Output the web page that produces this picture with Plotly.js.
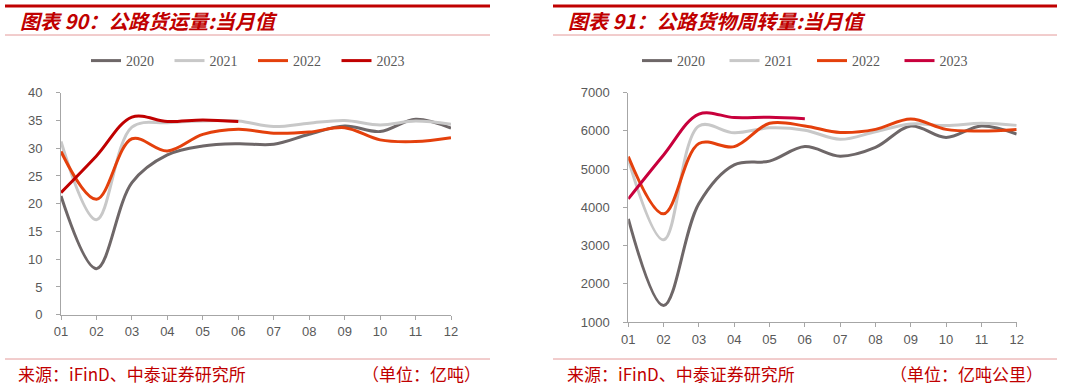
<!DOCTYPE html>
<html>
<head>
<meta charset="utf-8">
<script src="https://cdn.plot.ly/plotly-3.0.1.min.js"></script>
<style>html,body{margin:0;padding:0;background:#fff;}#chart{width:1078px;height:386px;}</style>
</head>
<body>
<div id="chart"></div>
<script>
// ---- data ----
const months = ['01','02','03','04','05','06','07','08','09','10','11','12'];
const seriesNames = ['2020','2021','2022','2023'];

// 公路货运量 (亿吨)
const volume2020 = [21.4, 8.3, 23.8, 28.8, 30.4, 30.8, 30.7, 32.5, 34.0, 33.0, 35.2, 33.6];
const volume2021 = [31.2, 17.1, 33.8, 34.6, 34.9, 34.9, 33.9, 34.5, 35.0, 34.2, 34.9, 34.3];
const volume2022 = [29.4, 20.8, 31.7, 29.5, 32.5, 33.4, 32.7, 32.9, 33.7, 31.5, 31.2, 31.9];
const volume2023 = [22.0, 28.6, 35.6, 34.8, 35.1, 34.8];

// 公路货物周转量 (亿吨公里)
const turnover2020 = [3700, 1430, 4100, 5110, 5210, 5590, 5340, 5570, 6130, 5830, 6130, 5920];
const turnover2021 = [5250, 3150, 6130, 5950, 6080, 6020, 5780, 5980, 6180, 6140, 6200, 6145];
const turnover2022 = [5330, 3830, 5670, 5590, 6200, 6130, 5960, 6040, 6310, 6040, 6000, 6040];
const turnover2023 = [4220, 5370, 6440, 6350, 6355, 6320];

const unitLeft = '（单位：亿吨）';
const unitRight = '（单位：亿吨公里）';
const sourceText = '来源：iFinD、中泰证券研究所';

const leftColors = ['#6e6768', '#c8c8c8', '#e4400c', '#c00000'];
const rightColors = ['#6e6768', '#c8c8c8', '#e4400c', '#c8003c'];

// ---- geometry helpers ----
const W = 1078, H = 386;
const px = x => x / W;
const py = y => 1 - y / H;

function makeTraces(list, colors, xa, ya, legend) {
  return list.map((vals, i) => ({
    type: 'scatter', mode: 'lines',
    x: months.slice(0, vals.length), y: vals,
    name: seriesNames[i],
    xaxis: xa, yaxis: ya, legend: legend,
    line: {color: colors[i], width: 3, shape: 'spline', smoothing: 1},
    hoverinfo: 'skip'
  }));
}

const data = [
  ...makeTraces([volume2020, volume2021, volume2022, volume2023], leftColors, 'x', 'y', 'legend'),
  ...makeTraces([turnover2020, turnover2021, turnover2022, turnover2023], rightColors, 'x2', 'y2', 'legend2')
];

const tickFont = {family: 'Liberation Sans, Arial, sans-serif', size: 13, color: '#595959'};
const axisLine = '#a6a6a6';

function xAxis(domain, anchor) {
  return {
    domain: domain, anchor: anchor, type: 'category', range: [0, 11],
    showline: true, linecolor: axisLine, linewidth: 1,
    ticks: 'outside', ticklen: 4, tickcolor: axisLine,
    showgrid: false, zeroline: false, tickfont: tickFont, fixedrange: true,
    ticklabelstandoff: 1
  };
}
function yAxis(domain, anchor, range, dtick) {
  return {
    domain: domain, anchor: anchor, range: range, dtick: dtick,
    showline: true, linecolor: axisLine, linewidth: 1,
    ticks: 'outside', ticklen: 4, tickcolor: axisLine,
    showgrid: false, zeroline: false, tickfont: tickFont, fixedrange: true,
    ticklabelstandoff: 11
  };
}

const legendFont = {family: 'Liberation Serif, Times New Roman, serif', size: 14, color: '#595959'};

const titleFont = {family: 'Noto Sans CJK SC, sans-serif', size: 20, color: '#c00000', weight: 'bold', style: 'italic'};
const srcFont = {family: 'Noto Sans CJK SC, sans-serif', size: 17, color: '#c00000'};

const layout = {
  width: W, height: H,
  margin: {l: 0, r: 0, t: 0, b: 0},
  paper_bgcolor: '#ffffff', plot_bgcolor: '#ffffff',
  showlegend: true,
  xaxis: xAxis([px(61), px(451)], 'y'),
  yaxis: yAxis([py(314.7), py(92.7)], 'x', [0, 40], 5),
  xaxis2: xAxis([px(628.3), px(1016.7)], 'y2'),
  yaxis2: yAxis([py(322), py(92.7)], 'x2', [1000, 7000], 1000),
  legend: {
    orientation: 'h', x: px(86), xanchor: 'left', y: py(61), yanchor: 'middle',
    font: legendFont, bgcolor: 'rgba(0,0,0,0)', entrywidth: 38.5, entrywidthmode: 'pixels',
    itemclick: false, itemdoubleclick: false
  },
  legend2: {
    orientation: 'h', x: px(637), xanchor: 'left', y: py(61), yanchor: 'middle',
    font: legendFont, bgcolor: 'rgba(0,0,0,0)', entrywidth: 42.5, entrywidthmode: 'pixels',
    itemclick: false, itemdoubleclick: false
  },
  shapes: [
    {type: 'line', xref: 'paper', yref: 'paper', x0: px(5), x1: px(490), y0: py(6), y1: py(6), line: {color: '#c00000', width: 3}},
    {type: 'line', xref: 'paper', yref: 'paper', x0: px(553), x1: px(1057), y0: py(6), y1: py(6), line: {color: '#c00000', width: 3}},
    {type: 'line', xref: 'paper', yref: 'paper', x0: px(5), x1: px(490), y0: py(35), y1: py(35), line: {color: '#e49a9a', width: 1}},
    {type: 'line', xref: 'paper', yref: 'paper', x0: px(553), x1: px(1057), y0: py(35), y1: py(35), line: {color: '#e49a9a', width: 1}},
    {type: 'line', xref: 'paper', yref: 'paper', x0: px(5), x1: px(490), y0: py(359), y1: py(359), line: {color: '#e49a9a', width: 1}},
    {type: 'line', xref: 'paper', yref: 'paper', x0: px(553), x1: px(1057), y0: py(359), y1: py(359), line: {color: '#e49a9a', width: 1}}
  ],
  annotations: [
    {text: '图表 90：公路货运量:当月值', xref: 'paper', yref: 'paper', x: px(18), y: py(21), xanchor: 'left', yanchor: 'middle', showarrow: false, font: titleFont},
    {text: '图表 91：公路货物周转量:当月值', xref: 'paper', yref: 'paper', x: px(566), y: py(21), xanchor: 'left', yanchor: 'middle', showarrow: false, font: titleFont},
    {text: sourceText, xref: 'paper', yref: 'paper', x: px(16), y: py(373), xanchor: 'left', yanchor: 'middle', showarrow: false, font: srcFont},
    {text: unitLeft, xref: 'paper', yref: 'paper', x: px(360), y: py(373), xanchor: 'left', yanchor: 'middle', showarrow: false, font: srcFont},
    {text: sourceText, xref: 'paper', yref: 'paper', x: px(565), y: py(373), xanchor: 'left', yanchor: 'middle', showarrow: false, font: srcFont},
    {text: unitRight, xref: 'paper', yref: 'paper', x: px(888), y: py(373), xanchor: 'left', yanchor: 'middle', showarrow: false, font: srcFont}
  ]
};

Plotly.newPlot('chart', data, layout, {staticPlot: true, displayModeBar: false});
</script>
</body>
</html>
